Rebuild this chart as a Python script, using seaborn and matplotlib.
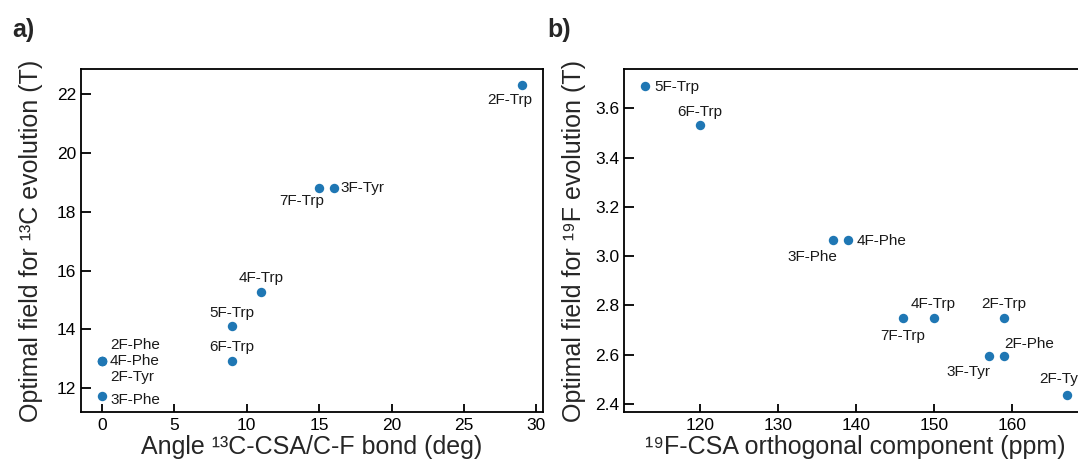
import matplotlib
matplotlib.use("Agg")
import matplotlib.pyplot as plt
import pandas as pd
import seaborn as sns

# Panel a: angle between 13C CSA and C-F bond vs optimal 13C field
a_names = ["2F-Trp", "7F-Trp", "3F-Tyr", "4F-Trp", "5F-Trp", "6F-Trp",
           "2F-Phe", "4F-Phe", "2F-Tyr", "3F-Phe"]
a_angle = [29, 15, 16, 11, 9, 9, 0, 0, 0, 0]
a_field = [22.3, 18.8, 18.8, 15.28, 14.1, 12.93, 12.93, 12.93, 12.93, 11.75]

# Panel b: 19F CSA orthogonal component vs optimal 19F field
b_names = ["5F-Trp", "6F-Trp", "3F-Phe", "4F-Phe", "7F-Trp", "4F-Trp",
           "2F-Trp", "3F-Tyr", "2F-Phe", "2F-Tyr"]
b_csa = [113, 120, 137, 139, 146, 150, 159, 157, 159, 167]
b_field = [3.689, 3.531, 3.064, 3.064, 2.75, 2.75, 2.75, 2.594, 2.594, 2.438]

a_xticks = [0, 5, 10, 15, 20, 25, 30]
a_yticks = [12, 14, 16, 18, 20, 22]
b_xticks = [120, 130, 140, 150, 160]
b_yticks = [2.4, 2.6, 2.8, 3.0, 3.2, 3.4, 3.6]

# label offsets in pixels (dx right, dy down) from each point to the text baseline start
a_offsets = [(-35, 19), (-40, 17), (7, 4), (-23, -10), (-23, -9), (-23, -10),
             (8, -12), (8, 4), (8, 20), (8, 8)]
b_offsets = [(9, 5), (-23, -9), (-45, 21), (8, 5), (-23, 22), (-23, -10),
             (-23, -10), (-42, 20), (0, -8), (-27, -12)]

sns.set_theme(style="ticks")
plt.rcParams["font.family"] = ["Liberation Sans", "DejaVu Sans"]

W, H = 1078, 468
fig = plt.figure(figsize=(W / 100, H / 100), dpi=100)

def px_axes(l, t, r, b):
    return fig.add_axes([l / W, 1 - b / H, (r - l) / W, (b - t) / H])

ax_a = px_axes(81, 69, 543, 412)
ax_b = px_axes(624, 69, 1087, 412)

blue = "#1f77b4"
df_a = pd.DataFrame({"name": a_names, "angle": a_angle, "field": a_field})
df_b = pd.DataFrame({"name": b_names, "csa": b_csa, "field": b_field})

sns.scatterplot(data=df_a, x="angle", y="field", ax=ax_a, color=blue,
                s=46, linewidth=0, zorder=3, clip_on=False)
sns.scatterplot(data=df_b, x="csa", y="field", ax=ax_b, color=blue,
                s=46, linewidth=0, zorder=3, clip_on=False)

def label_points(ax, xs, ys, names, offsets):
    for x, y, n, (dx, dy) in zip(xs, ys, names, offsets):
        ax.annotate(n, (x, y), xytext=(dx, -dy), textcoords="offset pixels",
                    ha="left", va="baseline", fontsize=11, color="#1a1a1a")

label_points(ax_a, a_angle, a_field, a_names, a_offsets)
label_points(ax_b, b_csa, b_field, b_names, b_offsets)

ax_a.set_xlim(-1.45, 30.46)
ax_a.set_ylim(11.19, 22.86)
ax_a.set_xticks(a_xticks)
ax_a.set_yticks(a_yticks)
ax_b.set_xlim(110.28, 169.6)
ax_b.set_ylim(2.368, 3.759)
ax_b.set_xticks(b_xticks)
ax_b.set_yticks(b_yticks)
ax_b.set_yticklabels([f"{v:.1f}" for v in b_yticks])

for ax in (ax_a, ax_b):
    for sp in ax.spines.values():
        sp.set_visible(True)
        sp.set_linewidth(1.3)
        sp.set_color("black")
    ax.tick_params(direction="in", width=1.3, labelsize=12.5, colors="black")
    ax.tick_params(axis="x", length=6, pad=4.5)
    ax.tick_params(axis="y", length=7, pad=3.5)
    ax.grid(False)

ax_a.set_xlabel("Angle \u00b9\u00b3C-CSA/C-F bond (deg)", fontsize=18, labelpad=1)
ax_a.set_ylabel("Optimal field for \u00b9\u00b3C evolution (T)", fontsize=18, labelpad=10)
ax_b.set_xlabel("\u00b9\u2079F-CSA orthogonal component (ppm)", fontsize=18, labelpad=1)
ax_b.set_ylabel("Optimal field for \u00b9\u2079F evolution (T)", fontsize=18, labelpad=6.5)

fig.text(12 / W, 1 - 37 / H, "a)", fontsize=18, fontweight="bold",
         ha="left", va="baseline")
fig.text(547 / W, 1 - 37 / H, "b)", fontsize=18, fontweight="bold",
         ha="left", va="baseline")

fig.savefig("out.png", dpi=100)
